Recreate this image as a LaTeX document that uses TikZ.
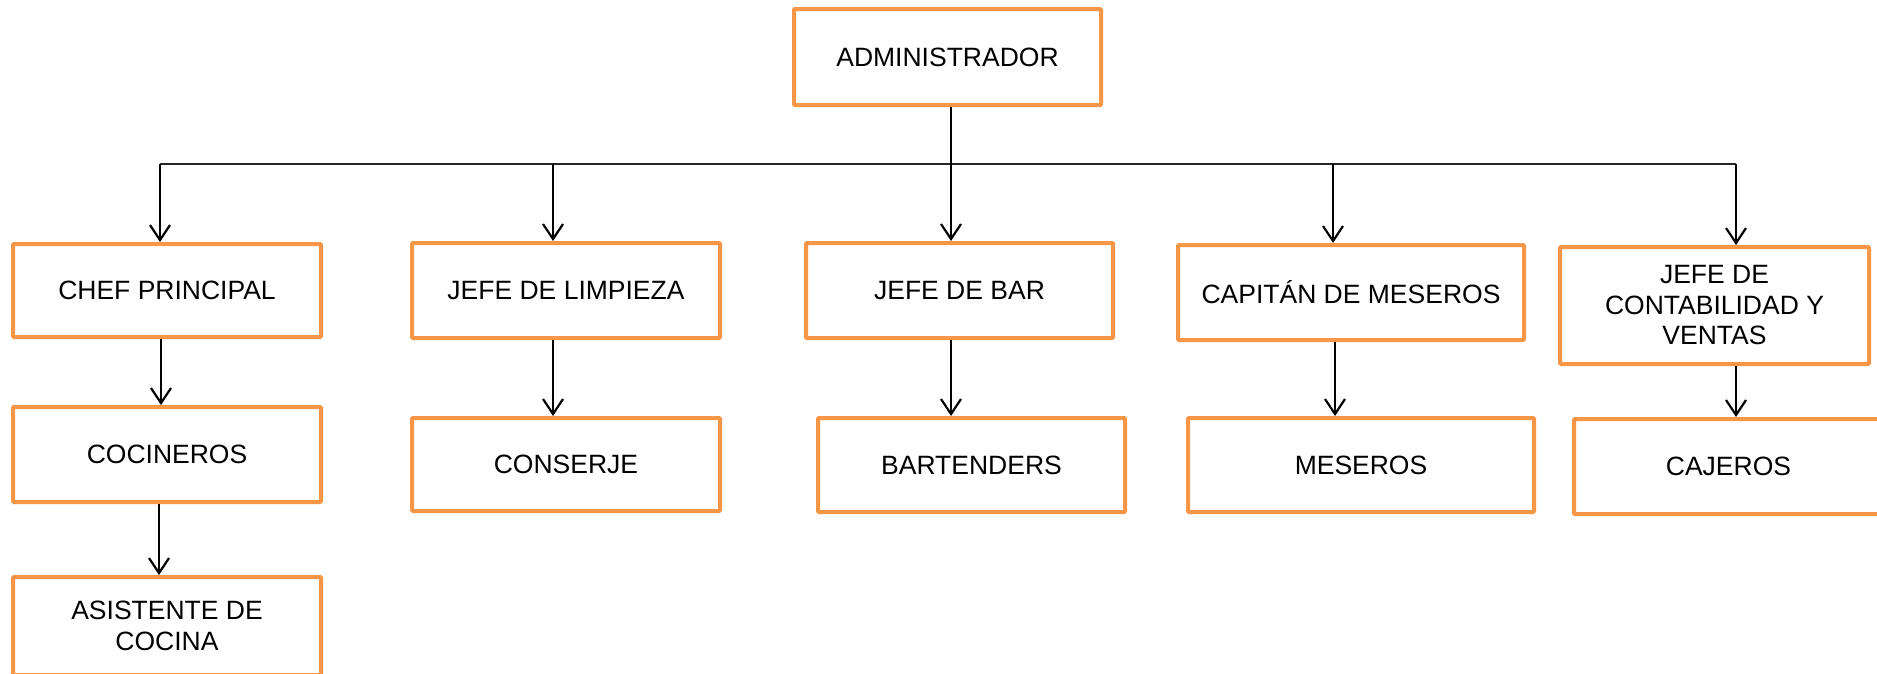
\documentclass[tikz,border=0pt]{standalone}
\usepackage{fontspec}
\setmainfont{Liberation Sans}
\usetikzlibrary{arrows.meta}
\definecolor{boxorange}{HTML}{F79646}
\begin{document}
\begin{tikzpicture}[x=1pt,y=-1pt,
  box/.style={draw=boxorange, line width=4pt, rounded corners=1pt, fill=white,
    inner sep=0pt, align=center, font=\fontsize{26.5}{30.5}\selectfont},
  arr/.style={draw=black, line width=2.2pt, -{Straight Barb[length=15pt,width=20pt]}},
  link/.style={draw=black, line width=2.2pt},
  bus/.style={draw=black!85, line width=1.6pt}]
\useasboundingbox (0,0) rectangle (1877,673);
\clip (0,0) rectangle (1877,673);

% boxes
\node[box, minimum width=307pt, minimum height=96pt] (admin) at (947.5,57) {ADMINISTRADOR};
\node[box, minimum width=308pt, minimum height=93pt] (chef) at (167,290.5) {CHEF PRINCIPAL};
\node[box, minimum width=308pt, minimum height=95pt] (coc) at (167,454.5) {COCINEROS};
\node[box, minimum width=308pt, minimum height=98pt] (asis) at (167,626) {ASISTENTE DE\\COCINA};
\node[box, minimum width=308pt, minimum height=95pt] (limp) at (566,290.5) {JEFE DE LIMPIEZA};
\node[box, minimum width=308pt, minimum height=93pt] (cons) at (566,464.5) {CONSERJE};
\node[box, minimum width=307pt, minimum height=95pt] (bar) at (959.5,290.5) {JEFE DE BAR};
\node[box, minimum width=307pt, minimum height=94pt] (bart) at (971.5,465) {BARTENDERS};
\node[box, minimum width=346pt, minimum height=95pt] (cap) at (1351,292.5) {CAPITÁN DE MESEROS};
\node[box, minimum width=346pt, minimum height=94pt] (mes) at (1361,465) {MESEROS};
\node[box, minimum width=309pt, minimum height=117pt] (cont) at (1714.5,305.5) {JEFE DE\\CONTABILIDAD Y\\VENTAS};
\node[box, minimum width=309pt, minimum height=95pt] (caj) at (1728.5,466.5) {CAJEROS};

% bus points
\coordinate (hl) at (160,164);
\coordinate (h2) at (553,164);
\coordinate (hub) at (951,164);
\coordinate (h4) at (1333,164);
\coordinate (hr) at (1736,164);
\coordinate (x1) at (161,0);
\coordinate (x1b) at (159,0);
\coordinate (x4) at (1335,0);

% connectors
\draw[bus] (hl) -- (hr);
\draw[link] (hub |- admin.south) -- (hub);
\draw[arr] (hl) -- (hl |- chef.north);
\draw[arr] (h2) -- (h2 |- limp.north);
\draw[arr] (hub) -- (hub |- bar.north);
\draw[arr] (h4) -- (h4 |- cap.north);
\draw[arr] (hr) -- (hr |- cont.north);

\draw[arr] (x1 |- chef.south) -- (x1 |- coc.north);
\draw[arr] (x1b |- coc.south) -- (x1b |- asis.north);
\draw[arr] (h2 |- limp.south) -- (h2 |- cons.north);
\draw[arr] (hub |- bar.south) -- (hub |- bart.north);
\draw[arr] (x4 |- cap.south) -- (x4 |- mes.north);
\draw[arr] (hr |- cont.south) -- (hr |- caj.north);
\end{tikzpicture}
\end{document}
